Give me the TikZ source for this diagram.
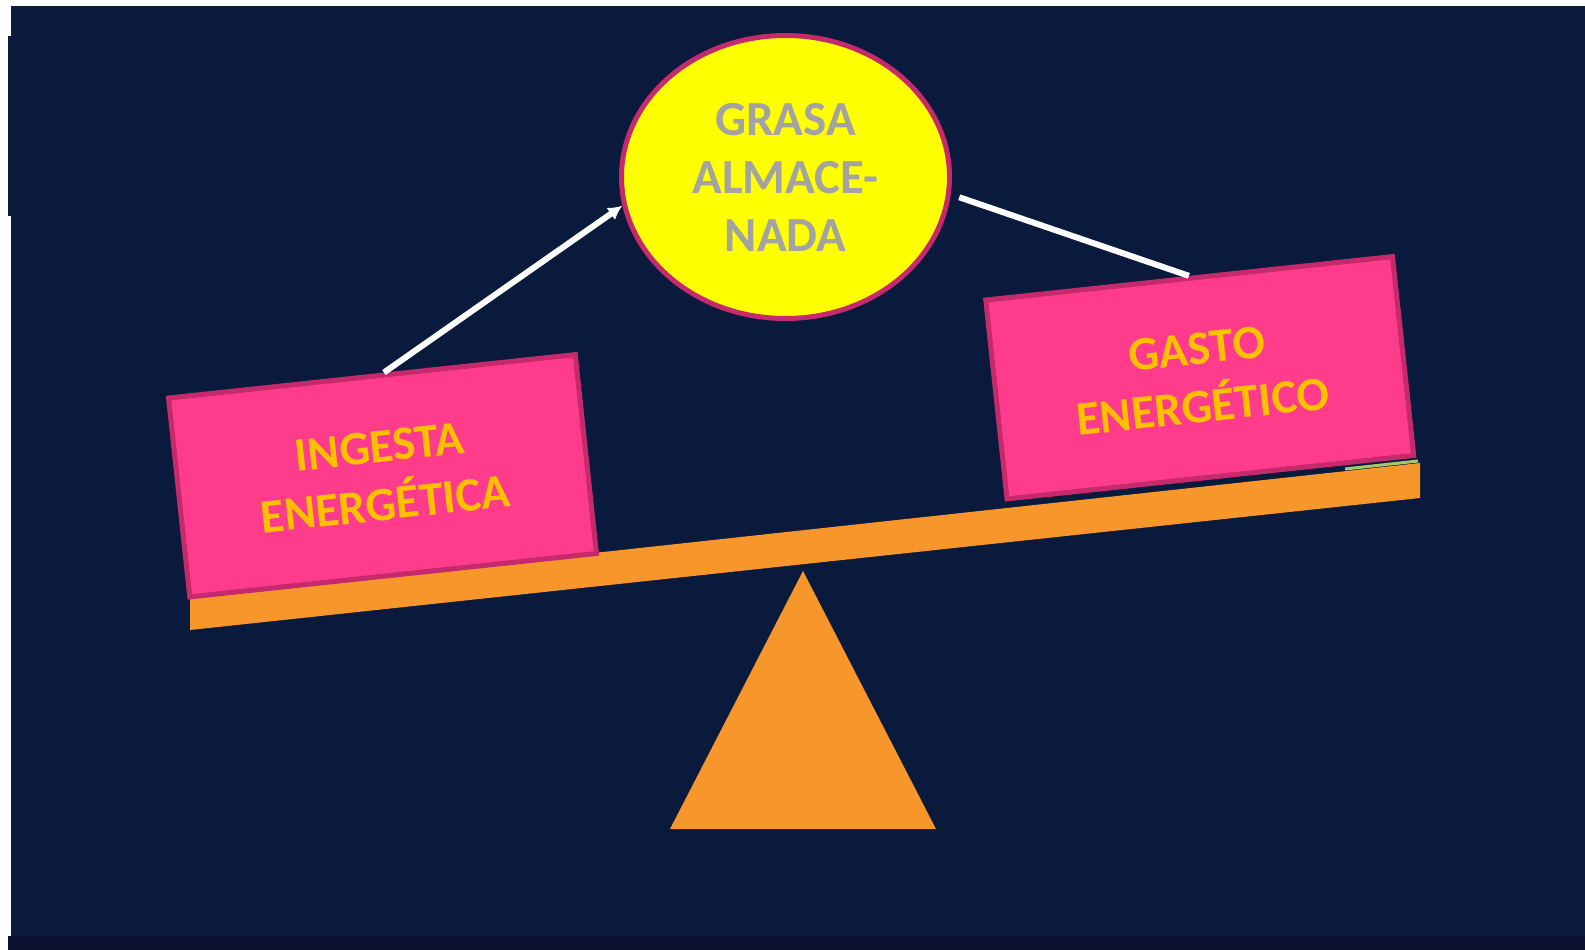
\documentclass[tikz,border=0pt]{standalone}
\usepackage{fontspec}
\newfontfamily\labelfont{Carlito}
\usetikzlibrary{shapes.geometric,arrows.meta,calc}
\definecolor{navy}{HTML}{0A1A3C}
\definecolor{navydark}{HTML}{0C1230}
\definecolor{beamorange}{HTML}{F7962B}
\definecolor{boxpink}{HTML}{FF3B8B}
\definecolor{boxedge}{HTML}{C42A6C}
\definecolor{labelgold}{HTML}{FFC000}
\definecolor{fatgray}{HTML}{A3A3A3}
\definecolor{fatyellow}{HTML}{FFFF00}
\definecolor{padgreen}{HTML}{A6C86A}
\begin{document}
\begin{tikzpicture}[x=1pt,y=-1pt,
  weightbox/.style={draw=boxedge, fill=boxpink, line width=5pt,
    minimum width=409pt, minimum height=200pt, inner sep=0pt,
    rotate=6.1, align=center, text=labelgold,
    font=\labelfont\bfseries\fontsize{48}{58}\selectfont},
  fatnode/.style={ellipse, draw=boxedge, fill=fatyellow, line width=5pt,
    minimum width=328pt, minimum height=283pt, inner sep=0pt,
    align=center, text=fatgray,
    font=\labelfont\bfseries\fontsize{49}{58}\selectfont},
  link/.style={draw=white, line width=6pt}]
\useasboundingbox (0,0) rectangle (1585,950);
% page and dark backdrop
\fill[white] (0,0) rectangle (1585,950);
\fill[navy] (11,6) rectangle (1585,936);
\fill[navy] (8,36) rectangle (11,216);
\fill[navydark] (8,936) rectangle (1585,950);
% fulcrum
\fill[beamorange] (803,571) -- (936,829) -- (670,829) -- cycle;
% tilted beam
\fill[beamorange] (190,597) -- (1420,463) -- (1420,498) -- (190,630) -- cycle;
\draw[padgreen, line width=3pt] (1345,469) -- (1418,461);
% weights on the beam
\node[weightbox] (lbox) at (382.5,475.75) {INGESTA\\ENERGÉTICA};
\node[weightbox] (rbox) at (1199.75,377.75) {GASTO\\ENERGÉTICO};
% stored fat
\node[fatnode] (fat) at (785.5,177) {GRASA\\ALMACE-\\NADA};
% connectors
\draw[link, -{Latex[length=14pt,width=15pt]}]
  ($(lbox.north west)!0.53!(lbox.north east)$) -- (fat.190);
\draw[link, shorten <=9pt] (fat.354) -- (rbox.north);
\end{tikzpicture}
\end{document}
